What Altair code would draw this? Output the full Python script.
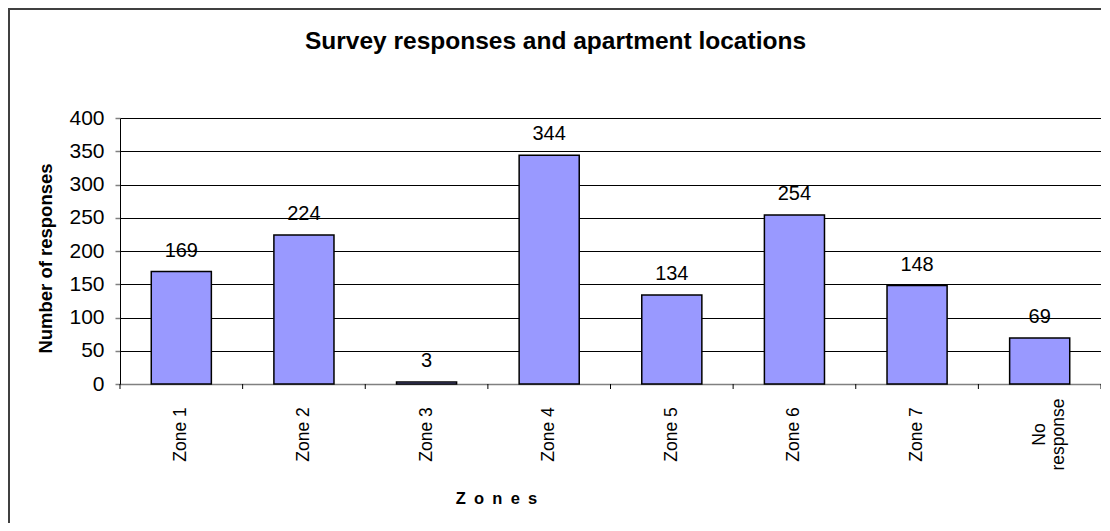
import altair as alt
import pandas as pd

zones = ["Zone 1", "Zone 2", "Zone 3", "Zone 4", "Zone 5", "Zone 6", "Zone 7", "No response"]
responses = [169, 224, 3, 344, 134, 254, 148, 69]
y_ticks = [0, 50, 100, 150, 200, 250, 300, 350, 400]
title_text = "Survey responses and apartment locations"
x_title = "Z\u2002o\u2002n\u2002e\u2002s"
y_title = "Number of responses"

df = pd.DataFrame({"zone": zones, "responses": responses})

W, H = 981, 266
FONT = "Liberation Sans"

x_scale = alt.Scale(paddingInner=0, paddingOuter=0)
y_scale = alt.Scale(domain=[0, 400], nice=False)

x_axis = alt.Axis(
    title=x_title, labelAngle=-90, labelAlign="center", labelBaseline="middle",
    labelPadding=50, ticks=False, tickSize=0, labelFontSize=17.5, labelFont=FONT,
    labelColor="black", labelOverlap=False, labelLineHeight=19,
    labelExpr="datum.label == 'No response' ? ['No', 'response'] : datum.label",
    domainColor="#808080", domainWidth=1.5, grid=False,
    titleFont=FONT, titleFontSize=16.5, titleFontWeight="bold", titleColor="black",
    titleX=376, titleY=114, titleAlign="center", titleBaseline="middle",
    orient="bottom",
)

y_axis = alt.Axis(
    title=y_title, values=y_ticks, grid=True, gridColor="black", gridWidth=1,
    gridOpacity=1, domainColor="black", domainWidth=1, tickColor="#808080",
    tickSize=5, tickWidth=1.5, labelFontSize=21, labelFont=FONT, labelColor="black",
    labelPadding=11, labelOverlap=False, titleFont=FONT, titleFontSize=18.5,
    titleFontWeight="bold", titleColor="black", titleX=-75, titleY=140,
    titleAlign="center", titleBaseline="middle",
)

x_enc = alt.X("zone:N", sort=zones, scale=x_scale, axis=x_axis)
y_enc = alt.Y("responses:Q", scale=y_scale, axis=y_axis)

border = alt.Chart(pd.DataFrame({"b": [0]})).mark_rect(
    fill="transparent", stroke="#404040", strokeWidth=2
).encode(
    x=alt.value(-111), y=alt.value(-109), x2=alt.value(W + 100), y2=alt.value(H + 300)
)

bars = alt.Chart(df).mark_bar(
    color="#9999FF", stroke="black", strokeWidth=1.5, width=alt.RelativeBandSize(0.49)
).encode(x=x_enc, y=y_enc)

labels = alt.Chart(df).mark_text(
    dy=-15, baseline="alphabetic", fontSize=20, font=FONT, color="black"
).encode(x=x_enc, y=y_enc, text="responses:Q")

ticks = alt.Chart(df).mark_rule(color="black", strokeWidth=1).encode(
    x=alt.X("zone:N", sort=zones, scale=x_scale, axis=x_axis, bandPosition=0),
    y=alt.value(H), y2=alt.value(H + 5),
)

end_tick = alt.Chart(pd.DataFrame({"b": [0]})).mark_rule(color="black", strokeWidth=1).encode(
    x=alt.value(W), y=alt.value(H), y2=alt.value(H + 5)
)

chart = alt.layer(border, bars, labels, ticks, end_tick).properties(
    width=W, height=H,
    title=alt.Title(
        title_text, font=FONT, fontSize=24.5, fontWeight="bold", color="black",
        anchor="middle", frame="group", dx=-55, offset=-65, baseline="alphabetic",
    ),
    padding={"left": 112, "top": 110, "right": 0, "bottom": 139},
    autosize=alt.AutoSizeParams(type="none"),
    background="white",
).configure_view(stroke="transparent")

chart.save("out.html", embed_options={"renderer": "svg", "actions": False})
